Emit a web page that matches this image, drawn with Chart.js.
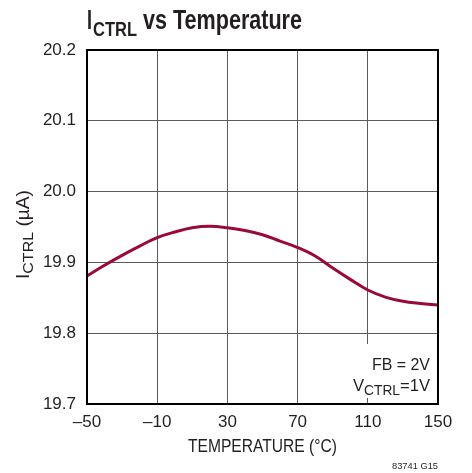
<!DOCTYPE html>
<html><head><meta charset="utf-8">
<script src="https://cdn.jsdelivr.net/npm/chart.js@4/dist/chart.umd.min.js"></script>
<style>html,body{margin:0;padding:0;background:#fff;}#wrap{width:472px;height:473px;position:relative;}</style>
</head><body><div id="wrap"><canvas id="c" width="472" height="473"></canvas></div>
<script>
const temperatures = [-50,-40,-30,-20,-10,0,10,20,30,40,50,60,70,80,90,100,110,120,130,140,150];
const ictrl = [19.881,19.896,19.910,19.923,19.935,19.943,19.949,19.951,19.949,19.945,19.939,19.930,19.921,19.909,19.892,19.876,19.861,19.851,19.845,19.842,19.840];
const xTicks = [-50,-10,30,70,110,150];
const yTicks = [19.7,19.8,19.9,20.0,20.1,20.2];
const FONT = "'Liberation Sans','Arial',sans-serif";
const INK = '#231f20';

function fitText(ctx, text, x, y, width, align){
  const w = ctx.measureText(text).width;
  ctx.save();
  ctx.translate(x, y);
  ctx.scale(width / w, 1);
  ctx.textAlign = align || 'left';
  ctx.fillText(text, 0, 0);
  ctx.restore();
}

function runs(ctx, parts, x, y, width){
  let total = 0;
  parts.forEach(p => { ctx.font = (p.bold ? 'bold ' : '') + p.size + 'px ' + FONT; p.w = ctx.measureText(p.t).width; total += p.w; });
  const s = width / total;
  ctx.save();
  ctx.translate(x, y);
  ctx.scale(s, 1);
  ctx.textAlign = 'left';
  let cx = 0;
  parts.forEach(p => { ctx.font = (p.bold ? 'bold ' : '') + p.size + 'px ' + FONT; ctx.fillText(p.t, cx, p.dy || 0); cx += p.w; });
  ctx.restore();
}

const textPlugin = {
  id: 'texts',
  beforeDraw(chart){
    const ctx = chart.ctx;
    ctx.save(); ctx.fillStyle = '#fff'; ctx.fillRect(0,0,chart.width,chart.height); ctx.restore();
  },
  beforeDatasetsDraw(chart){
    const ctx = chart.ctx;
    ctx.save(); ctx.fillStyle = '#fff'; ctx.fillRect(350, 344, 86, 54); ctx.restore();
  },
  afterDraw(chart){
    const ctx = chart.ctx;
    const a = chart.chartArea;
    ctx.save();
    ctx.strokeStyle = '#000'; ctx.lineWidth = 2;
    ctx.strokeRect(a.left, a.top, a.right - a.left, a.bottom - a.top);
    ctx.fillStyle = INK;
    ctx.textBaseline = 'alphabetic';
    // Title
    ctx.font = "bold 28px " + FONT;
    fitText(ctx, 'I', 87, 29, 5, 'left');
    ctx.font = "bold 20px " + FONT;
    fitText(ctx, 'CTRL', 93, 36, 44, 'left');
    ctx.font = "bold 28px " + FONT;
    fitText(ctx, 'vs Temperature', 143, 29, 159, 'left');
    // X title
    ctx.font = "19px " + FONT;
    fitText(ctx, 'TEMPERATURE (°C)', 188, 452, 149, 'left');
    // Y title rotated
    ctx.save();
    ctx.translate(29, 279);
    ctx.rotate(-Math.PI/2);
    runs(ctx, [{t:'I', size:18}, {t:'CTRL', size:15, dy:3.5}, {t:' (µA)', size:18}], 0, 0, 89);
    ctx.restore();
    // Annotation
    ctx.font = "17px " + FONT;
    fitText(ctx, 'FB = 2V', 372, 370, 58, 'left');
    runs(ctx, [{t:'V', size:17}, {t:'CTRL', size:14, dy:4}, {t:'=1V', size:17}], 353, 391, 77);
    // watermark
    ctx.font = "9px " + FONT;
    fitText(ctx, '83741 G15', 392, 469, 46, 'left');
    ctx.restore();
  }
};

new Chart(document.getElementById('c'), {
  type: 'line',
  data: {
    datasets: [{
      data: temperatures.map((t, i) => ({x: t, y: ictrl[i]})),
      borderColor: '#9a0a36',
      borderWidth: 3,
      pointRadius: 0,
      fill: false,
      tension: 0.4
    }]
  },
  options: {
    responsive: false,
    animation: false,
    devicePixelRatio: 1,
    layout: { padding: { left: 0, right: 34, top: 50, bottom: 0 } },
    plugins: { legend: { display: false }, tooltip: { enabled: false }, title: { display: false } },
    scales: {
      x: {
        type: 'linear', min: -50, max: 150,
        afterBuildTicks: s => { s.ticks = xTicks.map(v => ({value: v})); },
        afterFit: s => { s.height = 69; },
        grid: { color: '#5a5a5a', lineWidth: 1, drawTicks: false },
        border: { display: false },
        ticks: { padding: 8, color: INK, font: { family: FONT, size: 17 },
          callback: v => (v < 0 ? '\u2013' + Math.abs(v) : String(v)), maxRotation: 0 }
      },
      y: {
        type: 'linear', min: 19.7, max: 20.2,
        afterBuildTicks: s => { s.ticks = yTicks.map(v => ({value: v})); },
        afterFit: s => { s.width = 87; },
        grid: { color: '#5a5a5a', lineWidth: 1, drawTicks: false },
        border: { display: false },
        ticks: { padding: 11, color: INK, font: { family: FONT, size: 17 },
          callback: v => Number(v).toFixed(1) }
      }
    }
  },
  plugins: [textPlugin]
});
</script></body></html>
